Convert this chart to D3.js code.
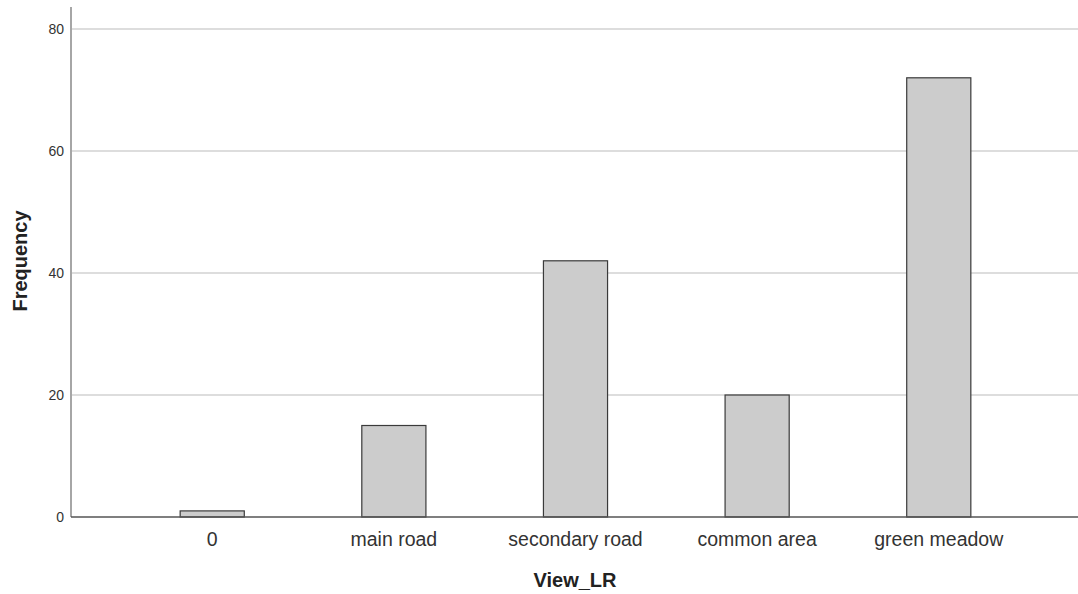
<!DOCTYPE html>
<html><head><meta charset="utf-8">
<script src="https://cdn.jsdelivr.net/npm/d3@7"></script>
<style>body{margin:0;background:#fff}svg{display:block}text{font-family:"Liberation Sans",Arial,sans-serif}</style>
</head><body><svg id="c" width="1078" height="594"></svg>
<script>
const categories = ["0", "main road", "secondary road", "common area", "green meadow"];
const frequencies = [1, 15, 42, 20, 72];
const yTicks = [0, 20, 40, 60, 80];

const svg = d3.select("#c");
const L = 71, R = 1078, T = 7, B = 517;
const y = d3.scaleLinear().domain([0, 80]).range([B, 29]);
const x = d3.scaleBand().domain(categories).range([L + 2, R]).paddingInner(0.647).paddingOuter(0.59);

// gridlines
svg.append("g").selectAll("line").data(yTicks.filter(d => d > 0)).join("line")
  .attr("x1", L).attr("x2", R).attr("y1", d => y(d)).attr("y2", d => y(d))
  .attr("stroke", "#d2d2d2").attr("stroke-width", 1.6);

// y axis
const ya = svg.append("g").attr("transform", `translate(${L},0)`)
  .call(d3.axisLeft(y).tickValues(yTicks).tickSize(0).tickPadding(7));
ya.select(".domain").remove();
ya.selectAll("text").attr("font-size", 14).attr("fill", "#333").attr("font-family", '"Liberation Sans",Arial,sans-serif');
svg.append("line").attr("x1", L).attr("x2", L).attr("y1", T).attr("y2", B)
  .attr("stroke", "#a6a6a6").attr("stroke-width", 2);

// bars
svg.append("g").selectAll("rect").data(categories).join("rect")
  .attr("x", d => x(d)).attr("width", x.bandwidth())
  .attr("y", (d, i) => y(frequencies[i])).attr("height", (d, i) => B - y(frequencies[i]))
  .attr("fill", "#cccccc").attr("stroke", "#3a3a3a").attr("stroke-width", 1.2);

// x axis
const xa = svg.append("g").attr("transform", `translate(0,${B})`)
  .call(d3.axisBottom(x).tickSize(0).tickPadding(15));
xa.select(".domain").remove();
xa.selectAll("text").attr("font-size", 19.5).attr("fill", "#333").attr("font-family", '"Liberation Sans",Arial,sans-serif');
svg.append("line").attr("x1", L).attr("x2", R).attr("y1", B).attr("y2", B)
  .attr("stroke", "#555").attr("stroke-width", 1.3);

// titles
svg.append("text").attr("x", 575).attr("y", 587).attr("text-anchor", "middle")
  .attr("font-size", 20).attr("font-weight", "bold").attr("fill", "#222").text("View_LR");
svg.append("text").attr("transform", "translate(27,261) rotate(-90)").attr("text-anchor", "middle")
  .attr("font-size", 20).attr("font-weight", "bold").attr("fill", "#222").text("Frequency");
</script></body></html>
